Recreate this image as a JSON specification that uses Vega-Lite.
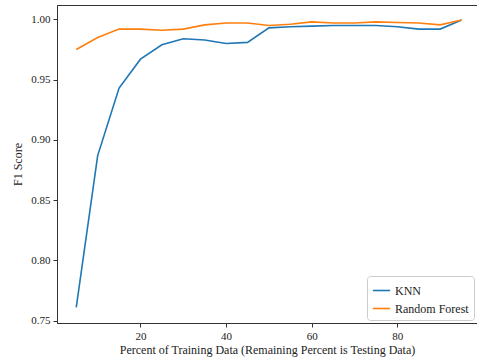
{
  "$schema": "https://vega.github.io/schema/vega-lite/v6.json",
  "autosize": {"type": "none"},
  "padding": {"left": 57, "top": 5, "right": 0, "bottom": 39},
  "width": 420,
  "height": 318,
  "background": "white",
  "config": {
    "font": "Liberation Serif",
    "view": {"stroke": "#333", "strokeWidth": 1},
    "axis": {
      "grid": false,
      "domainColor": "#333",
      "tickColor": "#333",
      "labelColor": "#222",
      "titleColor": "#222",
      "labelFont": "Liberation Serif",
      "titleFont": "Liberation Serif",
      "labelFontSize": 11,
      "titleFontSize": 12,
      "titleFontWeight": "normal",
      "tickSize": 4
    }
  },
  "data": {
    "values": [
      {"pct": 5, "model": "KNN", "f1": 0.761},
      {"pct": 10, "model": "KNN", "f1": 0.887},
      {"pct": 15, "model": "KNN", "f1": 0.943},
      {"pct": 20, "model": "KNN", "f1": 0.967},
      {"pct": 25, "model": "KNN", "f1": 0.979},
      {"pct": 30, "model": "KNN", "f1": 0.984},
      {"pct": 35, "model": "KNN", "f1": 0.983},
      {"pct": 40, "model": "KNN", "f1": 0.980},
      {"pct": 45, "model": "KNN", "f1": 0.981},
      {"pct": 50, "model": "KNN", "f1": 0.993},
      {"pct": 55, "model": "KNN", "f1": 0.994},
      {"pct": 60, "model": "KNN", "f1": 0.9945},
      {"pct": 65, "model": "KNN", "f1": 0.995},
      {"pct": 70, "model": "KNN", "f1": 0.995},
      {"pct": 75, "model": "KNN", "f1": 0.995},
      {"pct": 80, "model": "KNN", "f1": 0.994},
      {"pct": 85, "model": "KNN", "f1": 0.992},
      {"pct": 90, "model": "KNN", "f1": 0.992},
      {"pct": 95, "model": "KNN", "f1": 0.9995},
      {"pct": 5, "model": "Random Forest", "f1": 0.975},
      {"pct": 10, "model": "Random Forest", "f1": 0.985},
      {"pct": 15, "model": "Random Forest", "f1": 0.992},
      {"pct": 20, "model": "Random Forest", "f1": 0.992},
      {"pct": 25, "model": "Random Forest", "f1": 0.991},
      {"pct": 30, "model": "Random Forest", "f1": 0.992},
      {"pct": 35, "model": "Random Forest", "f1": 0.9955},
      {"pct": 40, "model": "Random Forest", "f1": 0.997},
      {"pct": 45, "model": "Random Forest", "f1": 0.997},
      {"pct": 50, "model": "Random Forest", "f1": 0.995},
      {"pct": 55, "model": "Random Forest", "f1": 0.996},
      {"pct": 60, "model": "Random Forest", "f1": 0.998},
      {"pct": 65, "model": "Random Forest", "f1": 0.997},
      {"pct": 70, "model": "Random Forest", "f1": 0.997},
      {"pct": 75, "model": "Random Forest", "f1": 0.998},
      {"pct": 80, "model": "Random Forest", "f1": 0.9975},
      {"pct": 85, "model": "Random Forest", "f1": 0.997},
      {"pct": 90, "model": "Random Forest", "f1": 0.9955},
      {"pct": 95, "model": "Random Forest", "f1": 0.9995}
    ]
  },
  "mark": {"type": "line", "strokeWidth": 1.6},
  "encoding": {
    "x": {
      "field": "pct",
      "type": "quantitative",
      "scale": {"domain": [0.5, 98.6], "nice": false, "zero": false},
      "axis": {"values": [20, 40, 60, 80], "title": "Percent of Training Data (Remaining Percent is Testing Data)", "titlePadding": 3, "labelPadding": 3}
    },
    "y": {
      "field": "f1",
      "type": "quantitative",
      "scale": {"domain": [0.748, 1.012], "nice": false, "zero": false},
      "axis": {"values": [0.75, 0.8, 0.85, 0.9, 0.95, 1.0], "format": ".2f", "title": "F1 Score", "titlePadding": 6, "labelPadding": 3}
    },
    "color": {
      "field": "model",
      "type": "nominal",
      "scale": {"domain": ["KNN", "Random Forest"], "range": ["#1f77b4", "#ff7f0e"]},
      "legend": {
        "title": null,
        "orient": "bottom-right",
        "offset": 3,
        "symbolType": "stroke",
        "symbolStrokeWidth": 1.6,
        "symbolSize": 300,
        "labelFont": "Liberation Serif",
        "labelFontSize": 12,
        "labelColor": "#222",
        "strokeColor": "#ccc",
        "fillColor": "white",
        "cornerRadius": 3,
        "padding": 5,
        "rowPadding": 2
      }
    }
  }
}
